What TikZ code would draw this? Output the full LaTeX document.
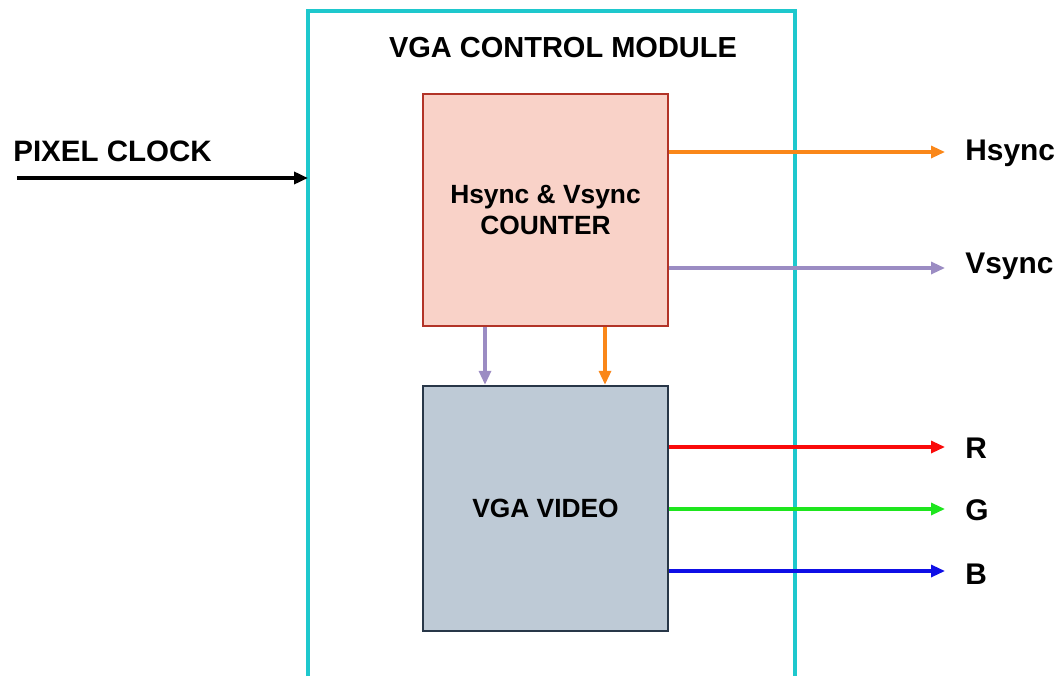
\documentclass[tikz,border=0pt]{standalone}
\usepackage{fontspec}
\setmainfont{Liberation Sans}
\usepackage{tikz}
\usetikzlibrary{arrows.meta}
\definecolor{moduleline}{RGB}{30,200,205}
\definecolor{counterfill}{RGB}{249,210,200}
\definecolor{counterline}{RGB}{178,52,40}
\definecolor{videofill}{RGB}{190,202,214}
\definecolor{videoline}{RGB}{40,55,72}
\definecolor{hsorange}{RGB}{250,135,25}
\definecolor{vspurple}{RGB}{155,140,195}
\definecolor{rred}{RGB}{250,10,10}
\definecolor{ggreen}{RGB}{30,230,30}
\definecolor{bblue}{RGB}{15,15,230}
\tikzset{
  block/.style={draw,line width=1.4pt,minimum width=4.9cm,minimum height=4.64cm,
    font=\bfseries\fontsize{15}{18.2}\selectfont,align=center,inner sep=0pt},
  sig/.style={line width=1.8pt,-{Triangle[length=0.28cm,width=0.24cm]}},
  lbl/.style={font=\bfseries\fontsize{17}{20}\selectfont,anchor=west,inner sep=0pt}
}

\begin{document}
\begin{tikzpicture}[x=0.02cm,y=-0.02cm]
      \useasboundingbox (0,0) rectangle (1064,676);
      % module frame (runs off the bottom)
      \draw [moduleline, line width=2.2pt] (308,676) -- (308,11) -- (795,11) -- (795,676);
      \node (title) at (563,48) {\bfseries\fontsize{16.5}{20}\selectfont VGA CONTROL MODULE};

      \node [block, fill=counterfill, draw=counterline, minimum height=4.64cm] (counter) at (545.5,210) {Hsync \& Vsync\\COUNTER};
      \node [block, fill=videofill, draw=videoline, minimum height=4.9cm] (video) at (545.5,508.5) {VGA VIDEO};

      % clock input
      \node [anchor=west, inner sep=0pt, font=\bfseries\fontsize{16.8}{20}\selectfont] (clklbl) at (13,151) {PIXEL CLOCK};
      \coordinate (clkin) at (17,178);
      \draw [sig, black, line width=2.4pt] (clkin) -- (clkin -| 308,0);

      % outputs
      \node [lbl] (hslbl) at (965,153) {Hsync};
      \node [lbl] (vslbl) at (965,266) {Vsync};
      \node [lbl] (rlbl) at (965,448) {R};
      \node [lbl] (glbl) at (965,510) {G};
      \node [lbl] (blbl) at (965,574) {B};
      \coordinate (hsend) at (945,152);
      \coordinate (vsend) at (945,268);
      \coordinate (rend) at (945,447);
      \coordinate (gend) at (945,509);
      \coordinate (bend) at (945,571);
      \draw [sig, hsorange] (counter.east |- hsend) -- (hsend);
      \draw [sig, vspurple] (counter.east |- vsend) -- (vsend);
      \draw [sig, rred] (video.east |- rend) -- (rend);
      \draw [sig, ggreen] (video.east |- gend) -- (gend);
      \draw [sig, bblue] (video.east |- bend) -- (bend);

      % counter to video
      \coordinate (vsdown) at (485,0);
      \coordinate (hsdown) at (605,0);
      \draw [sig, vspurple] (counter.south -| vsdown) -- (video.north -| vsdown);
      \draw [sig, hsorange] (counter.south -| hsdown) -- (video.north -| hsdown);
\end{tikzpicture}
\end{document}
